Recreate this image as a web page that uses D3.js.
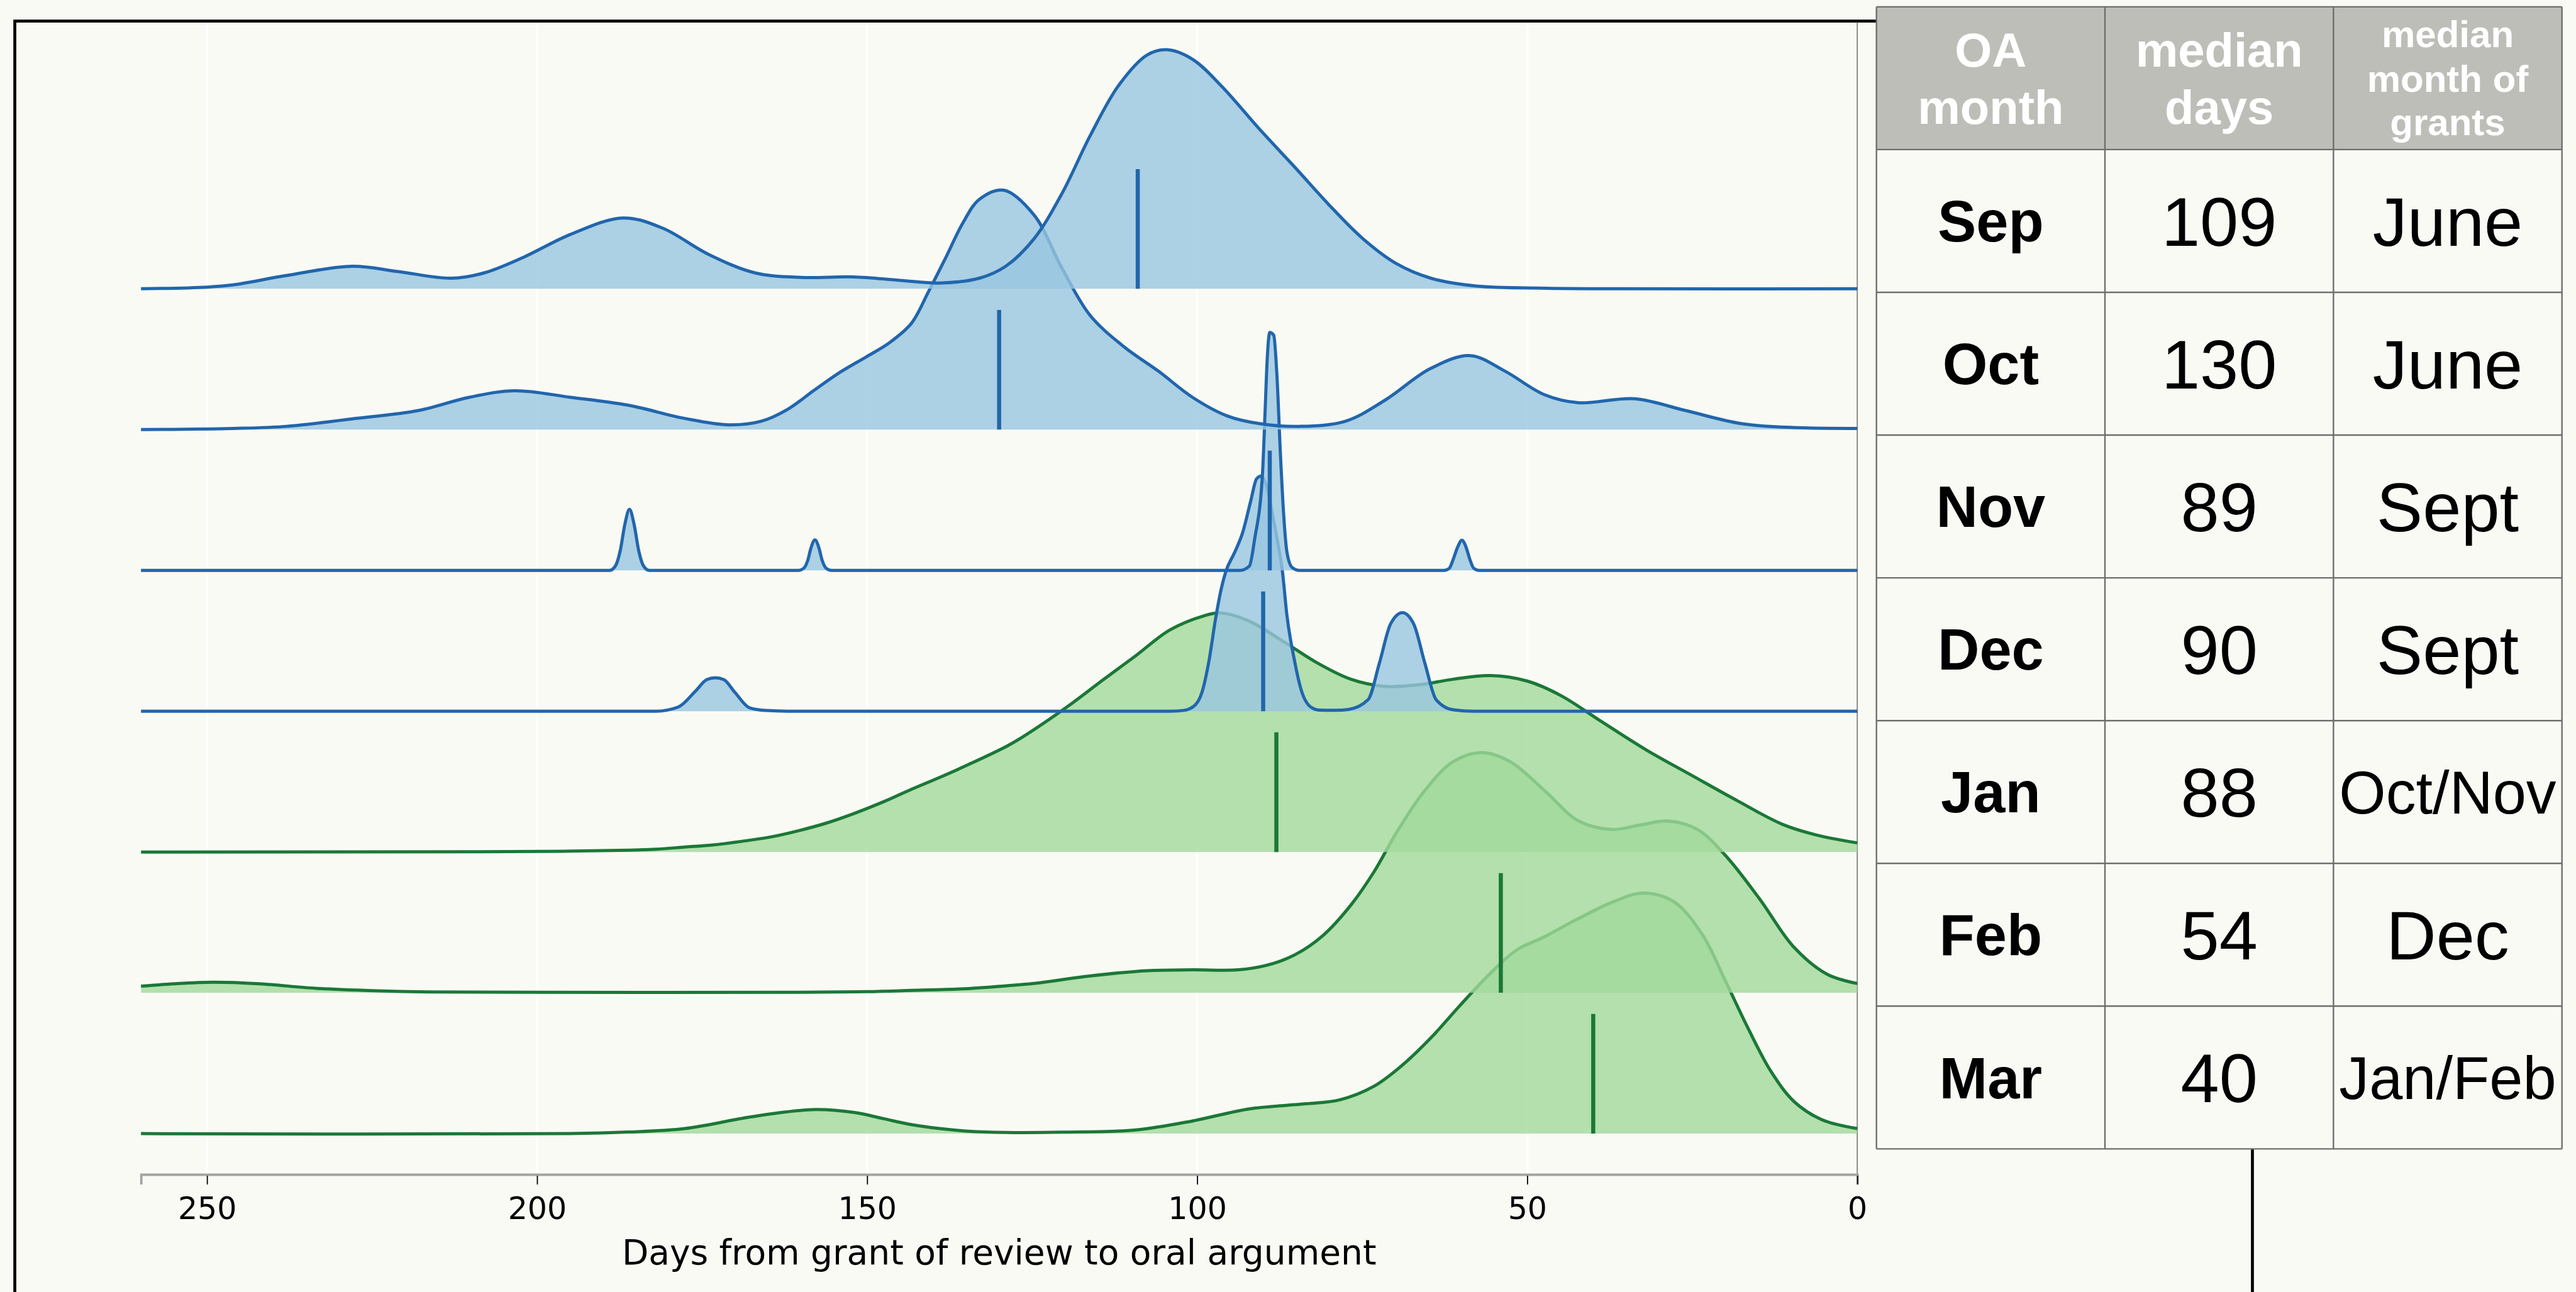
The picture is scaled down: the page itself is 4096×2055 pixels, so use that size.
<!DOCTYPE html>
<html>
<head>
<meta charset="utf-8">
<script src="https://cdn.jsdelivr.net/npm/d3@7"></script>
<style>
  html, body { margin: 0; padding: 0; background: #fafaf5; }
  svg { display: block; }
</style>
</head>
<body>
<div id="chart"></div>
<script>
// rows of the ridgeline, top to bottom (OA month)
var months = ["Sep", "Oct", "Nov", "Dec", "Jan", "Feb", "Mar"];
var medianDays = [109, 130, 89, 90, 88, 54, 40];
var grantMonths = ["June", "June", "Sept", "Sept", "Oct/Nov", "Dec", "Jan/Feb"];
var season = ["fall", "fall", "fall", "fall", "winter", "winter", "winter"];
var headerLines = [["OA", "month"], ["median", "days"], ["median", "month of", "grants"]];
var xTicks = [250, 200, 150, 100, 50, 0];

// density curves: [days, height], 100 = one row spacing
var sepCurve = [[260,0],[250,1.2],[246,2.8],[238,9.4],[228,16],[221,12.2],[213,7.5],[208,11.3],[202,22.5],[195,38.5],[187,50.3],[181,43.1],[174,24.4],[167,11.3],[160,8.1],[152,8.4],[145,6],[139,4.1],[133,7.5],[129,16],[124.7,35.6],[120.5,67.5],[116.2,108.8],[111.9,144.4],[107.6,166],[104.6,169.8],[100.7,163],[96.4,144.4],[90.4,112.6],[85.2,86.3],[80.1,60],[74.9,35.6],[69.8,17.8],[64.6,7.5],[57.7,1.9],[47,0.4],[35,0],[0,0]];
var octCurve = [[260,0],[246,0.8],[238,2.3],[227.5,7.9],[218,13.5],[210.3,22.9],[203.4,27.6],[194.9,22.9],[186.2,17.3],[177.6,7.9],[171,3.4],[166,6],[162,14.5],[158,28],[154,41],[150,52],[146.7,61.4],[143.3,75.4],[140.7,98],[138.1,122],[135.5,146.7],[133,163.5],[129.3,170],[124.7,152.3],[120.5,114.8],[116.2,81],[111,58.5],[105.9,41.6],[100.7,22.9],[95.5,9.8],[90.4,4.1],[84.4,2.3],[77.5,6],[71.5,21],[64.6,43.5],[58.6,52.5],[53.4,41.6],[47.4,24.8],[42.3,19.1],[33.7,21.9],[26,13.5],[17.4,4.1],[8.8,1.3],[0,0.8]];
var novCurve = [[260,0],[189,0],[188.1,3.4],[187.4,14],[186.7,32.7],[186,43.4],[185.3,32.7],[184.6,14],[183.9,3.4],[183,0],[160.4,0],[159.6,1.5],[159,7],[158.5,16],[157.9,21.6],[157.3,16],[156.8,7],[156.2,1.5],[155.4,0],[93.5,0],[92.1,3],[91.3,22],[90.1,69],[89.7,114],[89.4,149],[89,169],[88.4,167],[87.9,137],[87.4,84],[86.9,40],[86.4,13],[85.6,2],[84.5,0],[62.6,0],[61.8,1.5],[61.2,8],[60.5,17],[59.9,21.4],[59.3,17],[58.7,8],[58.1,1.5],[57.3,0],[0,0]];
var decCurve = [[260,0],[182,0],[178.6,3],[176,14.3],[174.3,22.4],[173,23.8],[171.7,22.4],[170,13.2],[167.8,2.4],[165.3,0.5],[162,0],[104,0],[102,0.6],[100.3,4.4],[99.3,13],[98.2,36],[97.2,66],[96.3,88],[95.6,100],[94.4,112],[93.1,127],[91.9,149],[91,165],[90.3,167],[89.5,160],[88.6,140],[87.8,120],[87.1,100],[86.4,68],[85.3,37],[84.3,16],[82.8,3],[81.5,0.8],[79,0.6],[77.1,1.2],[74.1,8.2],[72.4,34],[70.7,62],[68.9,70],[67.2,62],[65.5,34],[63.8,8.2],[61.2,1],[58,0],[0,0]];
var janCurve = [[260,0],[210,0.2],[195,0.6],[186,1.3],[182,2],[177.6,3.5],[173.4,5],[169.1,7.5],[164.8,10.5],[160.5,15],[156.2,20.5],[151.9,27.5],[147.6,35.5],[143.3,44.5],[139,53],[134.7,62],[128.9,75],[126.5,81.5],[119.6,103.4],[114.5,121.4],[109.3,139.4],[104.2,157.5],[99,167.7],[96.4,169.8],[92.1,163.9],[87,149.7],[81.8,134.3],[76.7,122.7],[71.5,117.6],[66.4,118.8],[61.2,122.7],[55.6,125.3],[50,121.4],[44.9,111.1],[38.9,93.1],[32,72.6],[25.1,54.5],[18.2,36.5],[11.4,19.8],[6.2,12.1],[0,6.5]];
var febCurve = [[260,4.7],[255,6.4],[249,7.5],[242.1,6.4],[233.5,3.2],[224.9,1.5],[216.3,0.6],[200,0.4],[160,0.4],[150,0.8],[143.3,1.7],[134.7,3],[128.9,5],[124.8,6.6],[116.2,12],[107.6,15.7],[100.7,16.3],[93.8,16.3],[89.5,19.5],[85.2,27],[80.9,40.9],[76.7,62.4],[73.2,86],[69.8,113.8],[65.5,143.8],[61.2,164.2],[56.9,170.6],[52.6,164.2],[47.4,143.8],[42.3,122.3],[37.1,116],[32.9,119.2],[28.6,122],[24.2,116],[20,97.7],[14.8,66.7],[9.6,32.4],[4.5,13],[0,6.6]];
var marCurve = [[260,0],[195,0],[186.2,1.1],[177.6,3.6],[169.1,10.7],[164.8,13.9],[157.9,17.1],[151.9,15],[147.6,10.7],[143.3,6.4],[139,3.6],[134.7,1.7],[128.9,0.8],[120.5,1],[109.3,2.6],[100.7,9],[92.1,17.6],[83.5,21.2],[78.4,24],[73.2,33.7],[68.9,48.7],[64.6,68],[60.3,90.4],[56,111.9],[51.7,130.1],[47.4,139.8],[42.3,152.6],[37.1,164.4],[32.4,170.8],[27.7,164.4],[23.4,140.8],[20,108.7],[16.5,74.4],[13.1,44.4],[9.6,22.9],[5.4,10],[0,3.6]];
var curves = [sepCurve, octCurve, novCurve, decCurve, janCurve, febCurve, marCurve];

var k = 0.942;   // reference px -> page px
var width = 4096, height = 2055;

var fillColor = {fall: "#98c6e0", winter: "#a1d99b"};
var lineColor = {fall: "#2166ac", winter: "#1b7837"};
var medianTick = 85;   // height of the median marker, in density units

var svg = d3.select("#chart").append("svg")
    .attr("width", width)
    .attr("height", height)
    .style("background", "#fafaf5");

var x = d3.scaleLinear().domain([260, 0]).range([238 * k, 3135 * k]);
var row = d3.scalePoint().domain(months).range([487.6 * k, 1914.1 * k]);
var rowStep = row.step();
var h = d3.scaleLinear().domain([0, 100]).range([0, rowStep]);

var frameTop = 35.6 * k;
var axisY = 1983 * k;

// outer frame (bottom is off the page)
svg.append("rect")
    .attr("x", 25 * k).attr("y", frameTop)
    .attr("width", (3802 - 25) * k).attr("height", 2300 * k)
    .attr("fill", "none").attr("stroke", "#000").attr("stroke-width", 4.7);

// vertical grid
svg.append("g").selectAll("line")
    .data(xTicks.filter(function(d) { return d !== 0; }))
    .enter().append("line")
    .attr("x1", function(d) { return x(d); }).attr("x2", function(d) { return x(d); })
    .attr("y1", frameTop + 3).attr("y2", axisY)
    .attr("stroke", "#ffffff").attr("stroke-width", 3);

svg.append("line")
    .attr("x1", x(0)).attr("x2", x(0))
    .attr("y1", frameTop + 2).attr("y2", axisY)
    .attr("stroke", "#808080").attr("stroke-width", 1.8);

// spiky rows keep monotone segments, the smooth ones get catmull-rom
function curveFor(i) {
    return (months[i] === "Nov" || months[i] === "Dec") ? d3.curveMonotoneX : d3.curveCatmullRom.alpha(0.5);
}

// ridges, bottom row first so upper rows sit on top
var order = d3.range(months.length).reverse();
order.forEach(function(i) {
    var base = row(months[i]);
    var s = season[i];
    var area = d3.area()
        .x(function(d) { return x(d[0]); })
        .y0(base)
        .y1(function(d) { return base - h(d[1]); })
        .curve(curveFor(i));
    var line = d3.line()
        .x(function(d) { return x(d[0]); })
        .y(function(d) { return base - h(d[1]); })
        .curve(curveFor(i));
    var g = svg.append("g").attr("class", "ridge");
    g.append("path").datum(curves[i])
        .attr("d", area)
        .attr("fill", fillColor[s]).attr("fill-opacity", 0.8);
    g.append("path").datum(curves[i])
        .attr("d", line)
        .attr("fill", "none").attr("stroke", lineColor[s]).attr("stroke-width", 5)
        .attr("stroke-linejoin", "round");
    g.append("line")
        .attr("x1", x(medianDays[i])).attr("x2", x(medianDays[i]))
        .attr("y1", base).attr("y2", base - h(medianTick))
        .attr("stroke", lineColor[s]).attr("stroke-width", 6.5);
});

// x axis
var axis = svg.append("g")
    .attr("transform", "translate(0," + axisY + ")")
    .call(d3.axisBottom(x).tickValues(xTicks).tickSizeOuter(0).tickSize(16).tickPadding(20));
axis.attr("font-family", "'DejaVu Sans', sans-serif").attr("font-size", 49);
axis.select(".domain").attr("stroke", "#a3a3a3").attr("stroke-width", 3.8);
axis.selectAll(".tick line").attr("stroke", "#000").attr("stroke-width", 1.8).attr("y1", 2);
axis.selectAll(".tick text").attr("fill", "#000");

svg.append("text")
    .attr("x", (x(260) + x(0)) / 2)
    .attr("y", 2135 * k)
    .attr("text-anchor", "middle")
    .style("font-family", "'DejaVu Sans', sans-serif")
    .style("font-size", "55px")
    .style("fill", "#000")
    .text("Days from grant of review to oral argument");

// summary table
var tx0 = 3167.4 * k, colW = 385.7 * k, ty0 = 11.5 * k, rowH = 241.05 * k;
var tableFont = "'Liberation Sans', Arial, Helvetica, sans-serif";
var table = svg.append("g").attr("id", "table");

table.append("rect")
    .attr("x", tx0).attr("y", ty0)
    .attr("width", colW * 3).attr("height", rowH)
    .attr("fill", "#bebeb9");
table.append("rect")
    .attr("x", tx0).attr("y", ty0 + rowH)
    .attr("width", colW * 3).attr("height", rowH * months.length)
    .attr("fill", "#fafaf5");

// header text
var headerSize = [76, 76, 60];
var headerBase = [[106.4, 196.5], [106.4, 196.5], [75.4, 146, 214.8]];
headerLines.forEach(function(lines, c) {
    lines.forEach(function(t, j) {
        table.append("text")
            .attr("x", tx0 + colW * (c + 0.5))
            .attr("y", headerBase[c][j])
            .attr("text-anchor", "middle")
            .style("font-family", tableFont)
            .style("font-weight", "bold")
            .style("font-size", headerSize[c] + "px")
            .style("fill", "#ffffff")
            .text(t);
    });
});

// body text
months.forEach(function(m, i) {
    var cy = ty0 + rowH * (i + 1.5);
    table.append("text")
        .attr("x", tx0 + colW * 0.5).attr("y", cy + 0.355 * 92)
        .attr("text-anchor", "middle")
        .style("font-family", tableFont).style("font-weight", "bold").style("font-size", "92px")
        .style("fill", "#000").text(m);
    table.append("text")
        .attr("x", tx0 + colW * 1.5).attr("y", cy + 0.358 * 110)
        .attr("text-anchor", "middle")
        .style("font-family", tableFont).style("font-size", "110px")
        .style("fill", "#000").text(medianDays[i]);
    var t = table.append("text")
        .attr("x", tx0 + colW * 2.5)
        .attr("text-anchor", "middle")
        .style("font-family", tableFont).style("font-size", "110px")
        .style("fill", "#000").text(grantMonths[i]);
    var fs = 110;
    var w = t.node().getComputedTextLength();
    if (w > colW - 18) {
        fs = 110 * (colW - 18) / w;
        t.style("font-size", fs + "px");
    }
    t.attr("y", cy + 0.358 * fs);
});

// table rules
var ruleColor = "#6e6e6e";
d3.range(months.length + 2).forEach(function(r) {
    table.append("line")
        .attr("x1", tx0).attr("x2", tx0 + colW * 3)
        .attr("y1", ty0 + rowH * r).attr("y2", ty0 + rowH * r)
        .attr("stroke", ruleColor).attr("stroke-width", 2.4);
});
d3.range(4).forEach(function(c) {
    table.append("line")
        .attr("x1", tx0 + colW * c).attr("x2", tx0 + colW * c)
        .attr("y1", ty0).attr("y2", ty0 + rowH * (months.length + 1))
        .attr("stroke", ruleColor).attr("stroke-width", 2.4);
});
</script>
</body>
</html>
